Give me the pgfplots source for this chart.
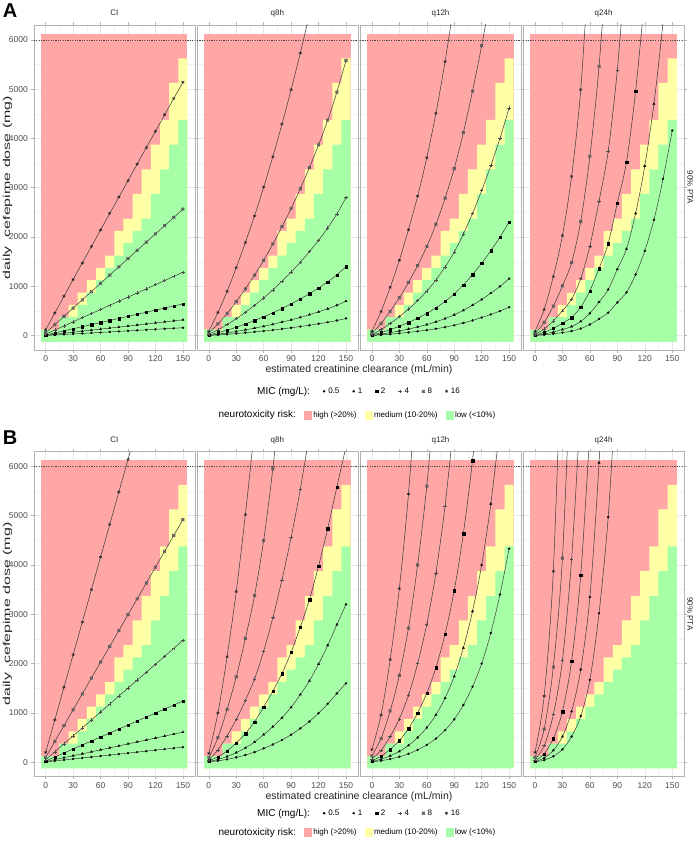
\documentclass[border=0pt]{standalone}
\usepackage{fontspec}
\setmainfont{Liberation Sans}
\usepackage{pgfplots}
\usepackage{pgfplotstable}
\pgfplotsset{compat=1.18}

\definecolor{riskhigh}{HTML}{FFA6A6}
\definecolor{riskmed}{HTML}{FFFFA6}
\definecolor{risklow}{HTML}{A6FFA6}

% ggplot shape 7: square with a cross
\pgfdeclareplotmark{sqx}{%
  \pgfpathrectangle{\pgfpoint{-\pgfplotmarksize}{-\pgfplotmarksize}}{\pgfpoint{2\pgfplotmarksize}{2\pgfplotmarksize}}%
  \pgfpathmoveto{\pgfpoint{-\pgfplotmarksize}{-\pgfplotmarksize}}\pgfpathlineto{\pgfpoint{\pgfplotmarksize}{\pgfplotmarksize}}%
  \pgfpathmoveto{\pgfpoint{-\pgfplotmarksize}{\pgfplotmarksize}}\pgfpathlineto{\pgfpoint{\pgfplotmarksize}{-\pgfplotmarksize}}%
  \pgfusepathqstroke}

\newcommand\ticksize{\fontsize{8.5}{9}\selectfont}
\newcommand\stripfont{\fontsize{8}{9}\selectfont}
\newcommand\titlefont{\fontsize{10}{11}\selectfont}

\pgfplotsset{
  panel/.style={
    scale only axis, width=161pt, height=325pt, anchor=north west,
    xmin=-13, xmax=163, ymin=-290, ymax=6300,
    xtick={0,30,60,90,120,150}, minor xtick={15,45,75,105,135},
    ytick={0,1000,2000,3000,4000,5000,6000}, minor ytick={500,1500,2500,3500,4500,5500},
    xmajorgrids, ymajorgrids, xminorgrids, yminorgrids,
    major grid style={draw=black!9, line width=0.5pt},
    minor grid style={draw=black!5, line width=0.3pt},
    axis line style={draw=black!30, line width=0.5pt},
    tick align=outside, major tick length=2.5pt, minor tick length=0pt,
    tick style={black!30, line width=0.5pt},
    tick label style={font=\ticksize, text=black!70},
    /pgf/number format/assume math mode=true,
    /pgf/number format/1000 sep={},
    scaled ticks=false,
    clip marker paths=true,
    unbounded coords=discard,
    title style={at={(0.5,1)}, anchor=base, yshift=3.5pt, font=\stripfont, text=black!85, inner sep=0pt},
  },
  noy/.style={yticklabels={}},
  mic/.style={smooth, line width=0.5pt, color=black!78},
  m05/.style={mic, mark=*, mark size=1.15pt, mark options={draw=black, fill=black, line width=0.1pt}},
  m1/.style={mic, mark=triangle*, mark size=1.5pt, mark options={draw=black, fill=black, line width=0.1pt}},
  m2/.style={mic, mark=square*, mark size=1.2pt, mark options={draw=black, fill=black, line width=0.1pt}},
  m4/.style={mic, mark=+, mark size=1.7pt, mark options={draw=black!70, line width=0.45pt}},
  m8/.style={mic, mark=sqx, mark size=1.3pt, mark options={draw=black!65, fill=none, line width=0.45pt}},
  m16/.style={mic, mark=asterisk, mark size=1.6pt, mark options={draw=black!85, line width=0.5pt}},
}

% neurotoxicity risk tiles (dose steps of 250 mg, CrCl steps of 10 mL/min)
\newcommand\riskbg{%
  \addplot[forget plot, draw=none, fill=riskhigh] coordinates {(-5,-125) (-5,6125) (155,6125) (155,-125)};
  \addplot[forget plot, draw=none, fill=riskmed, const plot mark left] coordinates {
    (-5,-125) (-5,125) (5,125) (15,375) (25,625) (35,875) (45,1125) (55,1375) (65,1625)
    (75,2125) (85,2375) (95,2875) (105,3375) (115,3875) (125,4375) (135,5125) (145,5625)
    (155,5625) (155,-125)};
  \addplot[forget plot, draw=none, fill=risklow, const plot mark left] coordinates {
    (-5,-125) (-5,125) (5,125) (15,375) (25,375) (35,625) (45,875) (55,1125) (65,1375)
    (75,1625) (85,1875) (95,2125) (105,2375) (115,2875) (125,3375) (135,3875) (145,4375)
    (155,4375) (155,-125)};
  \addplot[forget plot, black!70, line width=0.5pt, dash pattern=on 1.2pt off 1.2pt] coordinates {(-13,6000) (163,6000)};
}
\newcommand\curves[1]{%
  \addplot[m05, forget plot] table[x=c, y=m05] {#1};
  \addplot[m1, forget plot] table[x=c, y=m1] {#1};
  \addplot[m2, forget plot] table[x=c, y=m2] {#1};
  \addplot[m4, forget plot] table[x=c, y=m4] {#1};
  \addplot[m8, forget plot] table[x=c, y=m8] {#1};
  \addplot[m16, forget plot] table[x=c, y=m16] {#1};
}

% ---------- A ----------
\pgfplotstableread{
c m05 m1 m2 m4 m8 m16
0 4 8 15 30 60 120
10 14 29 57 114 227 460
20 25 50 99 197 394 800
30 35 71 141 281 561 1140
40 46 92 183 365 728 1475
50 56 113 225 448 895 1810
60 67 134 267 532 1062 2145
70 77 155 309 616 1229 2480
80 88 175 351 700 1396 2810
90 98 196 393 783 1563 3145
100 109 217 435 867 1730 3480
110 119 238 477 951 1897 3815
120 130 259 519 1034 2064 4145
130 140 280 561 1118 2231 4480
140 151 301 603 1202 2398 4810
150 161 322 645 1285 2565 5140
}\tAci
\pgfplotstableread{
c m05 m1 m2 m4 m8 m16
0 4 8 15 30 60 90
10 15 30 60 120 240 470
20 28 56 112 225 450 900
30 43 86 172 345 690 1380
40 60 119 238 475 950 1890
50 77 154 308 615 1230 2430
60 96 191 383 765 1530 3010
70 116 232 465 930 1860 3630
80 138 276 552 1105 2210 4290
90 161 322 645 1290 2580 4990
100 186 372 745 1490 2980 5730
110 213 426 852 1705 3410 6510
120 242 484 968 1935 3870 nan
130 273 546 1092 2185 4370 nan
140 308 617 1235 2470 4940 nan
150 350 700 1400 2800 5580 nan
}\tAqe
\pgfplotstableread{
c m05 m1 m2 m4 m8 m16
0 3 6 11 22 45 90
10 16 31 62 125 250 490
20 31 62 124 248 495 980
30 48 96 192 385 770 1530
40 68 135 270 540 1080 2150
50 89 178 355 710 1420 2830
60 113 226 452 905 1810 3610
70 141 282 565 1130 2260 4510
80 174 348 697 1395 2790 5560
90 212 424 847 1695 3390 6750
100 258 515 1030 2060 4120 nan
110 310 620 1240 2480 4960 nan
120 368 735 1470 2940 5880 nan
130 431 862 1725 3450 6900 nan
140 500 1000 2000 4000 nan nan
150 578 1155 2310 4620 nan nan
}\tAqt
\pgfplotstableread{
c m05 m1 m2 m4 m8 m16
0 3 6 11 22 45 90
10 17 34 68 135 270 530
20 38 75 150 300 600 1200
30 63 126 253 505 1010 2030
40 93 185 370 740 1480 3230
50 145 290 580 1160 2320 4990
60 227 455 910 1820 3640 7850
70 341 683 1365 2730 5460 nan
80 467 935 1870 3740 8000 nan
90 674 1348 2695 5390 nan nan
100 880 1760 3520 7700 nan nan
110 1240 2480 4960 nan nan nan
120 1720 3440 6880 nan nan nan
130 2350 4700 nan nan nan nan
140 3180 6360 nan nan nan nan
150 4160 8320 nan nan nan nan
}\tAqd
% ---------- B ----------
\pgfplotstableread{
c m05 m1 m2 m4 m8 m16
0 6 12 25 50 100 200
10 26 52 106 211 421 860
20 46 92 187 373 743 1520
30 66 132 268 534 1064 2180
40 86 171 349 696 1385 2840
50 105 211 430 857 1707 3500
60 125 251 511 1018 2028 4160
70 145 291 592 1179 2349 4820
80 165 331 673 1341 2670 5480
90 185 371 754 1502 2992 6140
100 205 411 835 1663 3313 6800
110 225 450 916 1825 3634 nan
120 245 490 997 1986 3956 nan
130 265 530 1078 2147 4277 nan
140 285 570 1159 2309 4598 nan
150 305 610 1240 2470 4920 nan
}\tBci
\pgfplotstableread{
c m05 m1 m2 m4 m8 m16
0 8 15 30 45 90 180
10 28 55 110 250 500 1000
20 58 115 230 535 1070 2140
30 98 195 390 865 1730 3460
40 145 290 580 1255 2510 5020
50 205 410 820 1690 3380 6760
60 280 560 1120 2250 4500 nan
70 360 720 1440 2930 5950 nan
80 450 900 1800 3700 7700 nan
90 558 1115 2230 4560 nan nan
100 685 1370 2740 5530 nan nan
110 825 1650 3300 6650 nan nan
120 995 1990 3980 nan nan nan
130 1185 2370 4740 nan nan nan
140 1395 2790 5580 nan nan nan
150 1600 3200 6400 nan nan nan
}\tBqe
\pgfplotstableread{
c m05 m1 m2 m4 m8 m16
0 8 16 32 64 128 256
10 30 60 120 240 480 960
20 65 130 260 520 1040 2080
30 110 220 440 880 1760 3520
40 170 340 680 1360 2720 5440
50 250 500 1000 2000 4000 8000
60 350 700 1400 2800 5600 nan
70 480 960 1920 3840 7680 nan
80 650 1300 2600 5200 nan nan
90 870 1740 3480 6960 nan nan
100 1160 2320 4640 nan nan nan
110 1530 3060 6120 nan nan nan
120 2000 4000 8000 nan nan nan
130 2620 5240 nan nan nan nan
140 3400 6800 nan nan nan nan
150 4330 nan nan nan nan nan
}\tBqt
\pgfplotstableread{
c m05 m1 m2 m4 m8 m16
0 6 12 25 50 100 200
10 42 85 170 335 670 1340
20 120 240 480 965 1930 3870
30 260 520 1030 2070 4140 9000
40 520 1030 2050 4110 8500 nan
50 935 1880 3790 7250 nan nan
60 1670 3350 6700 nan nan nan
70 3020 6070 nan nan nan nan
80 4970 10000 nan nan nan nan
90 8000 nan nan nan nan nan
}\tBqd

\pgfplotsset{
  miclegend/.style={
    legend style={at={(2.0137,#1)}, anchor=center, draw=none, fill=none, legend columns=-1,
      font=\fontsize{8}{9}\selectfont, inner sep=0pt,
      /tikz/every odd column/.append style={column sep=1pt},
      /tikz/every even column/.append style={column sep=11pt}},
    legend image code/.code={\draw[##1] plot coordinates {(2pt,0pt)};},
  },
  risklegend/.style={
    legend style={at={(0.994,#1)}, anchor=center, draw=none, fill=none, legend columns=-1,
      font=\fontsize{8}{9}\selectfont, inner sep=0pt,
      /tikz/every even column/.append style={column sep=6pt}},
  },
}
\newcommand\micentries{%
  \addlegendimage{empty legend}\addlegendentry{\titlefont MIC (mg/L):}
  \addlegendimage{m05}\addlegendentry{0.5}
  \addlegendimage{m1}\addlegendentry{1}
  \addlegendimage{m2}\addlegendentry{2}
  \addlegendimage{m4}\addlegendentry{4}
  \addlegendimage{m8}\addlegendentry{8}
  \addlegendimage{m16}\addlegendentry{16}
}
\newcommand\riskentries{%
  \addlegendimage{empty legend}\addlegendentry{\titlefont neurotoxicity risk:}
  \addlegendimage{legend image code/.code={\fill[riskhigh] (0pt,-4pt) rectangle (7pt,4pt);}}\addlegendentry{high (>20\%)}
  \addlegendimage{legend image code/.code={\fill[riskmed] (0pt,-4pt) rectangle (7pt,4pt);}}\addlegendentry{medium (10-20\%)}
  \addlegendimage{legend image code/.code={\fill[risklow] (0pt,-4pt) rectangle (7pt,4pt);}}\addlegendentry{low (<10\%)}
}

\begin{document}
\begin{tikzpicture}
\path[use as bounding box] (0pt,0pt) rectangle (695pt,-842pt);

% ===== row A =====
\node[font=\fontsize{20}{20}\selectfont\bfseries] at (10pt,-11pt) {A};
\node[rotate=90, xscale=1.6, font=\fontsize{10}{12}\selectfont, text=black!85] at (7.5pt,-187.5pt) {daily\ \ cefepime dose (mg)};
\node[font=\fontsize{10.5}{12}\selectfont, text=black!85] at (359pt,-370pt) {estimated creatinine clearance (mL/min)};

\begin{axis}[panel, at={(33.8pt,-25pt)}, title={CI}, miclegend=-0.127]
  \riskbg
  \curves{\tAci}
  \micentries
\end{axis}
\begin{axis}[panel, noy, at={(196.9pt,-25pt)}, title={q8h}, risklegend=-0.2]
  \riskbg
  \curves{\tAqe}
  \riskentries
\end{axis}
\begin{axis}[panel, noy, at={(360pt,-25pt)}, title={q12h}]
  \riskbg
  \curves{\tAqt}
\end{axis}
\begin{axis}[panel, noy, at={(523.1pt,-25pt)}, title={q24h},
  extra description/.code={\node[rotate=-90, font=\stripfont, text=black!85] at ([xshift=6pt]axis description cs:1,0.5) {90\% PTA};}]
  \riskbg
  \curves{\tAqd}
\end{axis}

% ===== row B =====
\node[font=\fontsize{20}{20}\selectfont\bfseries] at (10pt,-438pt) {B};
\node[rotate=90, xscale=1.6, font=\fontsize{10}{12}\selectfont, text=black!85] at (7.5pt,-614pt) {daily\ \ cefepime dose (mg)};
\node[font=\fontsize{10.5}{12}\selectfont, text=black!85] at (359pt,-797pt) {estimated creatinine clearance (mL/min)};

\begin{axis}[panel, at={(33.8pt,-451.5pt)}, title={CI}, miclegend=-0.113]
  \riskbg
  \curves{\tBci}
  \micentries
\end{axis}
\begin{axis}[panel, noy, at={(196.9pt,-451.5pt)}, title={q8h}, risklegend=-0.172]
  \riskbg
  \curves{\tBqe}
  \riskentries
\end{axis}
\begin{axis}[panel, noy, at={(360pt,-451.5pt)}, title={q12h}]
  \riskbg
  \curves{\tBqt}
\end{axis}
\begin{axis}[panel, noy, at={(523.1pt,-451.5pt)}, title={q24h},
  extra description/.code={\node[rotate=-90, font=\stripfont, text=black!85] at ([xshift=6pt]axis description cs:1,0.5) {90\% PTA};}]
  \riskbg
  \curves{\tBqd}
\end{axis}
\end{tikzpicture}
\end{document}
